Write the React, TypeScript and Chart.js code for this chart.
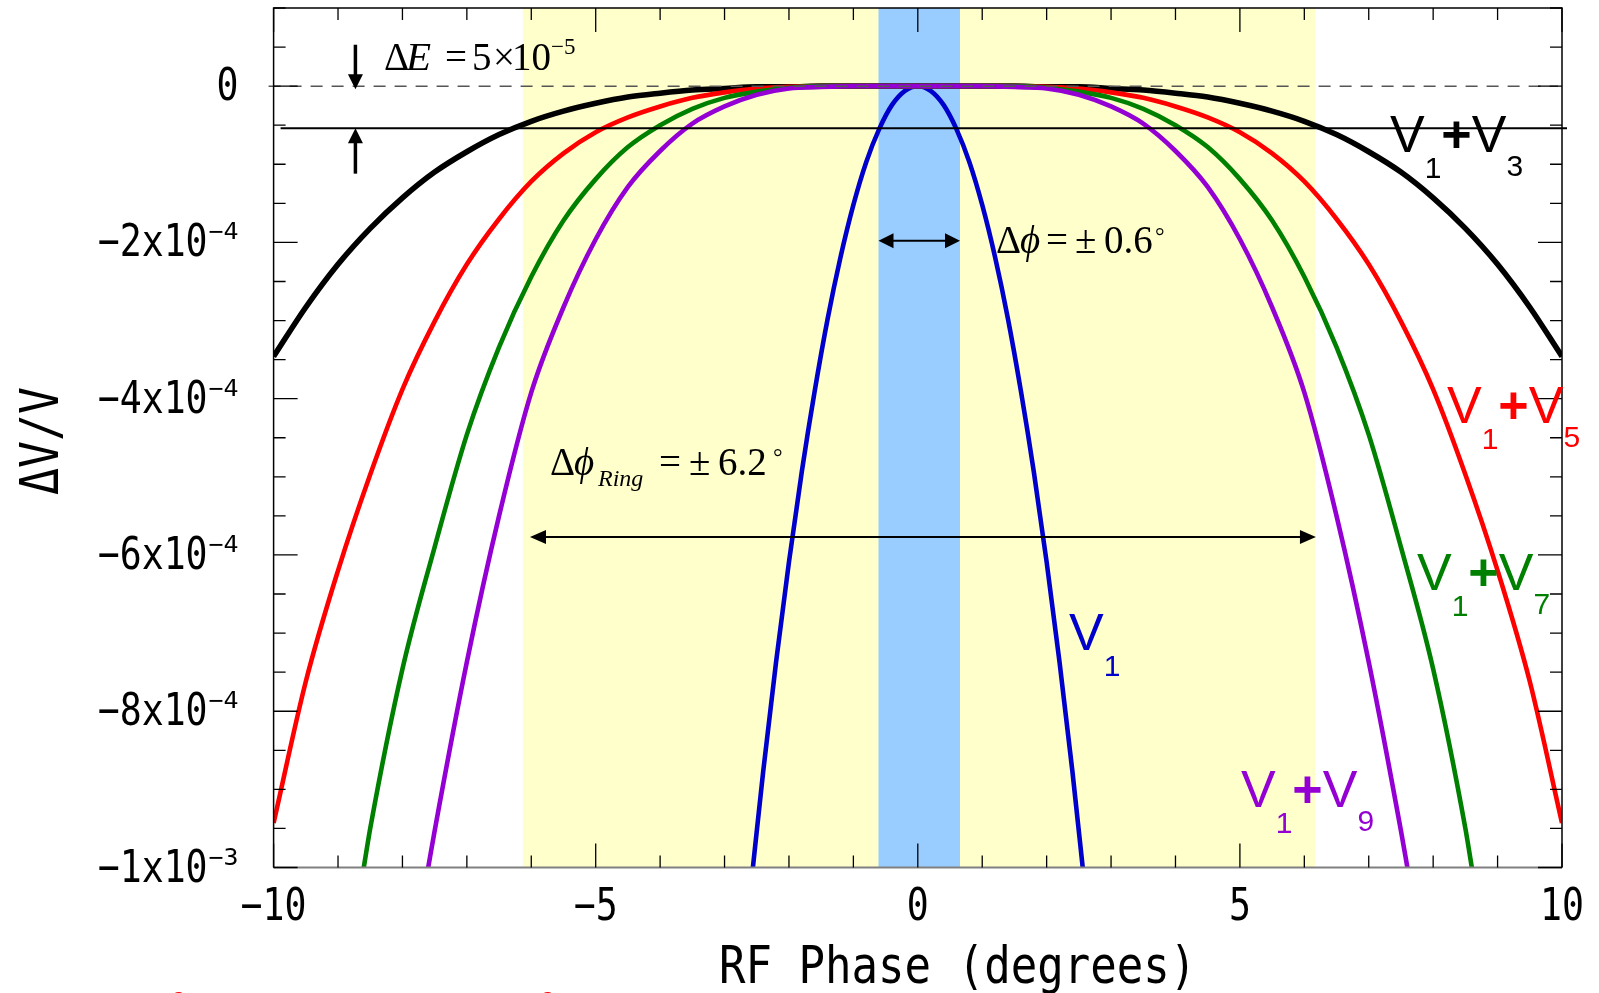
import React, { useEffect, useRef } from "react";
import { Chart, registerables } from "chart.js";

Chart.register(...registerables);

// ---------------- data (RF phase in degrees, ΔV/V) ----------------
const PHASE_WIDE = [-10, -9.5, -9, -8.5, -8, -7.5, -7, -6.5, -6, -5.5, -5, -4.5, -4, -3.5, -3, -2.5, -2, -1.5, -1, -0.5, 0,
  0.5, 1, 1.5, 2, 2.5, 3, 3.5, 4, 4.5, 5, 5.5, 6, 6.5, 7, 7.5, 8, 8.5, 9, 9.5, 10];

const V1_V3 = [-3.46e-4, -2.83e-4, -2.28e-4, -1.82e-4, -1.43e-4, -1.10e-4, -0.84e-4, -0.62e-4, -0.45e-4, -0.32e-4, -0.22e-4,
  -0.14e-4, -0.09e-4, -0.05e-4, -0.03e-4, -0.01e-4, -0.01e-4, 0, 0, 0, 0,
  0, 0, 0, -0.01e-4, -0.01e-4, -0.03e-4, -0.05e-4, -0.09e-4, -0.14e-4, -0.22e-4,
  -0.32e-4, -0.45e-4, -0.62e-4, -0.84e-4, -1.10e-4, -1.43e-4, -1.82e-4, -2.28e-4, -2.83e-4, -3.46e-4];

const V1_V5 = [-9.43e-4, -7.62e-4, -6.20e-4, -4.97e-4, -3.88e-4, -3.01e-4, -2.28e-4, -1.70e-4, -1.22e-4, -0.86e-4, -0.59e-4,
  -0.40e-4, -0.26e-4, -0.15e-4, -0.08e-4, -0.03e-4, -0.01e-4, 0, 0, 0, 0,
  0, 0, 0, -0.01e-4, -0.03e-4, -0.08e-4, -0.15e-4, -0.26e-4, -0.40e-4, -0.59e-4,
  -0.86e-4, -1.22e-4, -1.70e-4, -2.28e-4, -3.01e-4, -3.88e-4, -4.97e-4, -6.20e-4, -7.62e-4, -9.43e-4];

const PHASE_V7 = [-8.6, -8.5, -8, -7.5, -7, -6.5, -6, -5.5, -5, -4.5, -4, -3.5, -3, -2.5, -2, -1.5, -1, -0.5, 0,
  0.5, 1, 1.5, 2, 2.5, 3, 3.5, 4, 4.5, 5, 5.5, 6, 6.5, 7, 7.5, 8, 8.5, 8.6];
const V1_V7 = [-10.0e-4, -9.50e-4, -7.46e-4, -5.90e-4, -4.46e-4, -3.34e-4, -2.44e-4, -1.72e-4, -1.19e-4, -0.78e-4, -0.50e-4,
  -0.29e-4, -0.15e-4, -0.07e-4, -0.02e-4, 0, 0, 0, 0,
  0, 0, 0, -0.02e-4, -0.07e-4, -0.15e-4, -0.29e-4, -0.50e-4, -0.78e-4, -1.19e-4, -1.72e-4, -2.44e-4, -3.34e-4,
  -4.46e-4, -5.90e-4, -7.46e-4, -9.50e-4, -10.0e-4];

const PHASE_V9 = [-7.6, -7.5, -7, -6.5, -6, -5.5, -5, -4.5, -4, -3.5, -3, -2.5, -2, -1.5, -1, -0.5, 0,
  0.5, 1, 1.5, 2, 2.5, 3, 3.5, 4, 4.5, 5, 5.5, 6, 6.5, 7, 7.5, 7.6];
const V1_V9 = [-10.0e-4, -9.53e-4, -7.37e-4, -5.50e-4, -3.92e-4, -2.83e-4, -1.96e-4, -1.29e-4, -0.83e-4, -0.48e-4, -0.26e-4,
  -0.11e-4, -0.03e-4, -0.01e-4, 0, 0, 0,
  0, 0, -0.01e-4, -0.03e-4, -0.11e-4, -0.26e-4, -0.48e-4, -0.83e-4, -1.29e-4, -1.96e-4, -2.83e-4, -3.92e-4,
  -5.50e-4, -7.37e-4, -9.53e-4, -10.0e-4];

const PHASE_V1 = [-2.56, -2.4, -2.2, -2, -1.8, -1.6, -1.4, -1.2, -1, -0.8, -0.6, -0.4, -0.2, 0,
  0.2, 0.4, 0.6, 0.8, 1, 1.2, 1.4, 1.6, 1.8, 2, 2.2, 2.4, 2.56];
const V1_ONLY = [-10.0e-4, -8.77e-4, -7.37e-4, -6.09e-4, -4.93e-4, -3.90e-4, -2.98e-4, -2.19e-4, -1.52e-4, -0.97e-4,
  -0.55e-4, -0.24e-4, -0.06e-4, 0, -0.06e-4, -0.24e-4, -0.55e-4, -0.97e-4, -1.52e-4, -2.19e-4, -2.98e-4, -3.90e-4,
  -4.93e-4, -6.09e-4, -7.37e-4, -8.77e-4, -10.0e-4];

// annotation values (data units)
const RING_BAND = [-6.13, 6.17];
const BUNCH_BAND = [-0.61, 0.655];
const ZERO_LEVEL = 0;
const DELTA_E_LEVEL = -0.54e-4;
const DE_ARROW_X = -8.73;
const DE_DOWN = [0.53e-4, -0.04e-4];
const DE_UP = [-1.12e-4, -0.54e-4];
const DPHI_ARROW = [-0.61, 0.655];
const DPHI_LEVEL = -1.98e-4;
const RING_ARROW = [-6.02, 6.18];
const RING_LEVEL = -5.77e-4;

// axes / ticks
const X_MIN = -10, X_MAX = 10, Y_MIN = -1e-3, Y_MAX = 1e-4;
const X_TICK_VALUES = [-10, -5, 0, 5, 10];
const X_TICK_LABELS = ["\u221210", "\u22125", "0", "5", "10"];
const Y_TICK_VALUES = [0, -2e-4, -4e-4, -6e-4, -8e-4, -1e-3];
const Y_TICK_MANT = ["0", "\u22122x10", "\u22124x10", "\u22126x10", "\u22128x10", "\u22121x10"];
const Y_TICK_EXP = ["", "\u22124", "\u22124", "\u22124", "\u22124", "\u22123"];

const SANS = '"Liberation Sans", Arial, sans-serif';
const SERIF = '"Liberation Serif", "DejaVu Serif", serif';
const MONO = '"DejaVu Sans Mono", "Liberation Mono", monospace';

function scaledText(ctx: any, text: string, font: string, x: number, y: number, sx: number, align: string) {
  ctx.save();
  ctx.font = font;
  const w = ctx.measureText(text).width * sx;
  let left = x;
  if (align === "center") left = x - w / 2;
  else if (align === "right") left = x - w;
  ctx.translate(left, y);
  ctx.scale(sx, 1);
  ctx.textAlign = "left";
  ctx.textBaseline = "alphabetic";
  ctx.fillText(text, 0, 0);
  ctx.restore();
}

function fitText(ctx: any, text: string, font: string, x: number, y: number, width: number) {
  ctx.save();
  ctx.font = font;
  const w = ctx.measureText(text).width;
  ctx.translate(x, y);
  ctx.scale(width / w, 1);
  ctx.textAlign = "left";
  ctx.textBaseline = "alphabetic";
  ctx.fillText(text, 0, 0);
  ctx.restore();
}

function head(ctx: any, tx: number, ty: number, dx: number, dy: number, len: number, half: number) {
  const bx = tx - dx * len, by = ty - dy * len;
  const px = -dy, py = dx;
  ctx.beginPath();
  ctx.moveTo(tx, ty);
  ctx.lineTo(bx + px * half, by + py * half);
  ctx.lineTo(bx - px * half, by - py * half);
  ctx.closePath();
  ctx.fill();
}

function vLabel(ctx: any, x: number, base: number, second: string, color: string) {
  ctx.save();
  ctx.fillStyle = color;
  ctx.textAlign = "left";
  ctx.textBaseline = "alphabetic";
  let cx = x;
  ctx.font = `52px ${SANS}`;
  ctx.fillText("V", cx, base);
  cx += ctx.measureText("V").width;
  ctx.font = `30px ${SANS}`;
  ctx.fillText("1", cx, base + 26);
  cx += ctx.measureText("1").width;
  if (second) {
    ctx.font = `bold 52px ${SANS}`;
    ctx.fillText("+", cx, base);
    cx += ctx.measureText("+").width;
    ctx.font = `52px ${SANS}`;
    ctx.fillText("V", cx, base);
    cx += ctx.measureText("V").width;
    ctx.font = `30px ${SANS}`;
    ctx.fillText(second, cx, base + 24);
  }
  ctx.restore();
}

function serifSegs(ctx: any, segs: any[]) {
  ctx.save();
  ctx.fillStyle = "#000";
  ctx.textAlign = "left";
  ctx.textBaseline = "alphabetic";
  for (const s of segs) {
    ctx.font = s.f;
    ctx.fillText(s.t, s.x, s.y);
  }
  ctx.restore();
}

const overlay = {
  id: "overlay",
  beforeDatasetsDraw(chart: any) {
    const { ctx, chartArea: ca, scales } = chart;
    const px = (v: number) => scales.x.getPixelForValue(v);
    ctx.save();
    ctx.fillStyle = "#FFFFCC";
    ctx.fillRect(px(RING_BAND[0]), ca.top, px(RING_BAND[1]) - px(RING_BAND[0]), ca.bottom - ca.top);
    ctx.fillStyle = "#99CCFF";
    ctx.fillRect(px(BUNCH_BAND[0]), ca.top, px(BUNCH_BAND[1]) - px(BUNCH_BAND[0]), ca.bottom - ca.top);
    ctx.restore();
  },
  afterDatasetsDraw(chart: any) {
    const { ctx, chartArea: ca, scales } = chart;
    const px = (v: number) => scales.x.getPixelForValue(v);
    const py = (v: number) => scales.y.getPixelForValue(v);
    ctx.save();

    // dashed zero line
    ctx.strokeStyle = "#555";
    ctx.lineWidth = 1.5;
    ctx.setLineDash([12, 9]);
    ctx.beginPath();
    ctx.moveTo(ca.left - 5, py(ZERO_LEVEL));
    ctx.lineTo(ca.right - 4, py(ZERO_LEVEL));
    ctx.stroke();
    ctx.setLineDash([]);

    // ΔE level line
    ctx.strokeStyle = "#000";
    ctx.lineWidth = 2;
    ctx.beginPath();
    ctx.moveTo(ca.left + 7, py(DELTA_E_LEVEL));
    ctx.lineTo(ca.right + 5, py(DELTA_E_LEVEL));
    ctx.stroke();

    // ΔE arrows
    ctx.fillStyle = "#000";
    const ax = px(DE_ARROW_X);
    ctx.lineWidth = 3.5;
    ctx.beginPath();
    ctx.moveTo(ax, py(DE_DOWN[0]));
    ctx.lineTo(ax, py(DE_DOWN[1]) - 12);
    ctx.stroke();
    head(ctx, ax, py(DE_DOWN[1]), 0, 1, 15, 7.5);
    ctx.beginPath();
    ctx.moveTo(ax, py(DE_UP[0]));
    ctx.lineTo(ax, py(DE_UP[1]) + 12);
    ctx.stroke();
    head(ctx, ax, py(DE_UP[1]), 0, -1, 15, 7.5);

    // Δφ arrow
    ctx.lineWidth = 2;
    const dy1 = py(DPHI_LEVEL);
    ctx.beginPath();
    ctx.moveTo(px(DPHI_ARROW[0]) + 10, dy1);
    ctx.lineTo(px(DPHI_ARROW[1]) - 10, dy1);
    ctx.stroke();
    head(ctx, px(DPHI_ARROW[0]), dy1, -1, 0, 15, 7.5);
    head(ctx, px(DPHI_ARROW[1]), dy1, 1, 0, 15, 7.5);

    // ring arrow
    const ry = py(RING_LEVEL);
    ctx.beginPath();
    ctx.moveTo(px(RING_ARROW[0]) + 10, ry);
    ctx.lineTo(px(RING_ARROW[1]) - 10, ry);
    ctx.stroke();
    head(ctx, px(RING_ARROW[0]), ry, -1, 0, 16, 7);
    head(ctx, px(RING_ARROW[1]), ry, 1, 0, 16, 7);

    // frame
    ctx.lineWidth = 2;
    ctx.strokeStyle = "#808080";
    ctx.beginPath();
    ctx.moveTo(ca.left, ca.bottom);
    ctx.lineTo(ca.right, ca.bottom);
    ctx.stroke();
    ctx.strokeStyle = "#000";
    ctx.lineWidth = 1.5;
    ctx.beginPath();
    ctx.moveTo(ca.left, ca.bottom);
    ctx.lineTo(ca.left, ca.top);
    ctx.lineTo(ca.right, ca.top);
    ctx.lineTo(ca.right, ca.bottom);
    ctx.stroke();

    // ticks
    ctx.lineWidth = 1.3;
    ctx.strokeStyle = "#000";
    ctx.beginPath();
    for (let i = X_MIN; i <= X_MAX; i += 1) {
      const x = px(i);
      const len = i % 5 === 0 ? 24 : 12;
      ctx.moveTo(x, ca.bottom);
      ctx.lineTo(x, ca.bottom - len);
      ctx.moveTo(x, ca.top);
      ctx.lineTo(x, ca.top + len);
    }
    for (let k = 2; k >= -20; k -= 1) {
      const v = k * 0.5e-4;
      const y = py(v);
      const len = k % 4 === 0 ? 24 : 12;
      ctx.moveTo(ca.left, y);
      ctx.lineTo(ca.left + len, y);
      ctx.moveTo(ca.right, y);
      ctx.lineTo(ca.right - len, y);
    }
    ctx.stroke();

    // tick labels
    ctx.fillStyle = "#000";
    X_TICK_VALUES.forEach((v, i) => {
      scaledText(ctx, X_TICK_LABELS[i], `44px ${MONO}`, px(v), ca.bottom + 52.5, 0.83, "center");
    });
    Y_TICK_VALUES.forEach((v, i) => {
      const y = py(v) + 14;
      if (!Y_TICK_EXP[i]) {
        scaledText(ctx, Y_TICK_MANT[i], `44px ${MONO}`, ca.left - 35, y, 0.83, "right");
      } else {
        scaledText(ctx, Y_TICK_MANT[i], `44px ${MONO}`, ca.left - 66, y, 0.83, "right");
        fitText(ctx, Y_TICK_EXP[i], `23px ${MONO}`, ca.left - 65, y - 17, 30);
      }
    });

    // axis titles
    scaledText(ctx, "RF Phase (degrees)", `52px ${MONO}`, 719, 983, 0.847, "left");
    ctx.save();
    ctx.translate(58, 441);
    ctx.rotate(-Math.PI / 2);
    scaledText(ctx, "\u0394V/V", `54px ${MONO}`, 0, 0, 0.83, "center");
    ctx.restore();

    // curve labels
    vLabel(ctx, 1390, 152, "3", "#000000");
    vLabel(ctx, 1447, 423, "5", "#FF0000");
    vLabel(ctx, 1417, 590, "7", "#008000");
    vLabel(ctx, 1241, 807, "9", "#9400D3");
    vLabel(ctx, 1069, 650, "", "#0000CC");

    // serif annotations
    serifSegs(ctx, [
      { t: "\u0394", f: `39px ${SERIF}`, x: 384, y: 70 },
      { t: "E", f: `italic 41px ${SERIF}`, x: 406, y: 70 },
      { t: "=", f: `39px ${SERIF}`, x: 445, y: 70 },
      { t: "5", f: `39px ${SERIF}`, x: 472, y: 70 },
      { t: "\u00d7", f: `39px ${SERIF}`, x: 493, y: 70 },
      { t: "10", f: `39px ${SERIF}`, x: 512, y: 70 },
      { t: "\u22125", f: `23px ${SERIF}`, x: 551, y: 54 },
    ]);
    serifSegs(ctx, [
      { t: "\u0394", f: `39px ${SERIF}`, x: 996, y: 253 },
      { t: "\u03d5", f: `italic 39px ${SERIF}`, x: 1020, y: 253 },
      { t: "=", f: `39px ${SERIF}`, x: 1046, y: 253 },
      { t: "\u00b1", f: `39px ${SERIF}`, x: 1075, y: 253 },
      { t: "0.6", f: `39px ${SERIF}`, x: 1104, y: 253 },
      { t: "\u00b0", f: `24px ${SERIF}`, x: 1155, y: 244 },
    ]);
    serifSegs(ctx, [
      { t: "\u0394", f: `39px ${SERIF}`, x: 550, y: 475 },
      { t: "\u03d5", f: `italic 39px ${SERIF}`, x: 574, y: 475 },
      { t: "Ring", f: `italic 24px ${SERIF}`, x: 598, y: 486 },
      { t: "=", f: `39px ${SERIF}`, x: 659, y: 475 },
      { t: "\u00b1", f: `39px ${SERIF}`, x: 689, y: 475 },
      { t: "6.2", f: `39px ${SERIF}`, x: 718, y: 475 },
      { t: "\u00b0", f: `24px ${SERIF}`, x: 773, y: 465 },
    ]);

    // cut-off red glyphs at the very bottom edge
    ctx.fillStyle = "#FF0000";
    ctx.font = `22px ${SERIF}`;
    ctx.fillText("2", 174, 1006);
    ctx.fillText("2", 543, 1006);

    ctx.restore();
  },
};

function pts(xs: number[], ys: number[]) {
  return xs.map((x, i) => ({ x, y: ys[i] }));
}

export default function App() {
  const ref = useRef<HTMLCanvasElement>(null);
  useEffect(() => {
    const chart = new Chart(ref.current as HTMLCanvasElement, {
      type: "line",
      data: {
        datasets: [
          { label: "V1+V9", data: pts(PHASE_V9, V1_V9), borderColor: "#9400D3", borderWidth: 4.6 },
          { label: "V1+V7", data: pts(PHASE_V7, V1_V7), borderColor: "#008000", borderWidth: 4.6 },
          { label: "V1+V5", data: pts(PHASE_WIDE, V1_V5), borderColor: "#FF0000", borderWidth: 4.6 },
          { label: "V1+V3", data: pts(PHASE_WIDE, V1_V3), borderColor: "#000000", borderWidth: 5.6 },
          { label: "V1", data: pts(PHASE_V1, V1_ONLY), borderColor: "#0000CC", borderWidth: 4.6 },
        ] as any,
      },
      options: {
        animation: false,
        responsive: false,
        layout: { padding: { left: 273.6, right: 37, top: 8, bottom: 125.5 } },
        scales: {
          x: { type: "linear", min: X_MIN, max: X_MAX, display: false },
          y: { type: "linear", min: Y_MIN, max: Y_MAX, display: false },
        },
        plugins: { legend: { display: false }, tooltip: { enabled: false } },
        elements: {
          point: { radius: 0 },
          line: { cubicInterpolationMode: "monotone", fill: false, borderJoinStyle: "round", borderCapStyle: "butt" },
        },
      } as any,
      plugins: [overlay],
    });
    return () => chart.destroy();
  }, []);
  return (
    <div style={{ position: "fixed", left: 0, top: 0, width: 1599, height: 993, background: "#fff", overflow: "hidden" }}>
      <canvas ref={ref} width={1599} height={993} style={{ display: "block" }} />
    </div>
  );
}
